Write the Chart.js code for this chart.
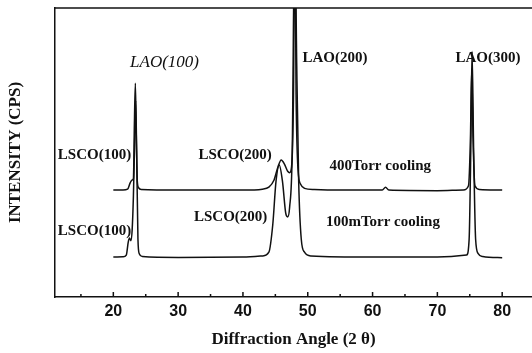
<!DOCTYPE html>
<html>
<head>
<meta charset="utf-8">
<script src="https://cdn.jsdelivr.net/npm/chart.js@4"></script>
<style>
  html, body { margin: 0; padding: 0; background: #fff; overflow: hidden; }
</style>
</head>
<body>
<canvas id="xrd" width="532" height="353"></canvas>
<script>
// 400Torr cooling (upper trace)
const angles400 = [20.0, 21.5, 22.2, 22.6, 22.9, 23.1, 23.25, 23.4, 23.55, 23.7, 23.9, 24.3, 30, 40, 43, 44,
    44.8, 45.4, 45.9, 46.4, 46.9, 47.2, 47.5, 47.8, 48.0, 48.2, 48.5, 48.9, 49.5, 51, 55, 61.5, 62.0, 62.5,
    70, 74, 74.8, 75.1, 75.3, 75.5, 75.8, 76.5, 80];
const intens400 = [37.0, 37.0, 37.3, 39.5, 40.5, 41, 60, 74, 55, 40, 37.8, 37.2, 37, 37, 37.3, 38,
    40.5, 45, 47.4, 46, 43.5, 43, 45, 70, 130, 70, 44, 39, 37.6, 37.2, 37, 37, 38, 37,
    36.8, 37, 38.5, 55, 79, 55, 38.5, 37.2, 37];

// 100mTorr cooling (lower trace)
const angles100 = [20, 21.5, 22.0, 22.3, 22.5, 22.7, 22.9, 23.1, 23.3, 23.45, 23.6, 23.8, 24.0, 24.5, 30, 40,
    43, 44, 44.6, 45.1, 45.6, 46.1, 46.6, 46.9, 47.2, 47.6, 48.0, 48.3, 48.6, 49.0, 49.5, 50.5, 60, 70,
    74.5, 74.9, 75.15, 75.35, 75.6, 75.9, 76.3, 77, 80];
const intens100 = [13.8, 13.9, 14.5, 19, 20.4, 19.5, 23, 35, 55, 68, 50, 20, 15, 14, 13.7, 13.8,
    14.2, 15.5, 25, 40, 45.7, 40, 29, 27.7, 31, 50, 130, 80, 40, 20, 15.5, 14.2, 13.8, 13.8,
    14.5, 20, 50, 85, 50, 20, 15, 14, 13.6];

const xTicks = [20, 30, 40, 50, 60, 70, 80];
const xMinorTicks = [15, 25, 35, 45, 55, 65, 75];

const peakNames = ['LAO(100)', 'LSCO(100)', 'LSCO(100)', 'LSCO(200)', 'LSCO(200)', 'LAO(200)', 'LAO(300)',
    '400Torr cooling', '100mTorr cooling'];
const peakNameAngles = [27.9, 17.1, 17.1, 38.8, 38.1, 54.2, 77.8, 61.2, 61.6];
const peakNameIntens = [81.0, 49.1, 22.8, 49.1, 27.7, 82.7, 82.7, 45.3, 26.0];

const toPoints = (xs, ys) => xs.map((x, i) => ({ x: x, y: ys[i] }));

const decorations = {
    id: 'decorations',
    afterDatasetsDraw(chart) {
        const { ctx, chartArea, scales } = chart;
        ctx.save();
        ctx.strokeStyle = '#111';
        ctx.lineWidth = 1.5;

        // top frame line
        ctx.beginPath();
        ctx.moveTo(chartArea.left, chartArea.top);
        ctx.lineTo(chartArea.right, chartArea.top);
        ctx.stroke();

        // inward tick marks
        ctx.beginPath();
        xTicks.forEach(v => {
            const px = scales.x.getPixelForValue(v);
            ctx.moveTo(px, chartArea.bottom);
            ctx.lineTo(px, chartArea.bottom - 5);
        });
        xMinorTicks.forEach(v => {
            const px = scales.x.getPixelForValue(v);
            ctx.moveTo(px, chartArea.bottom);
            ctx.lineTo(px, chartArea.bottom - 3);
        });
        ctx.stroke();

        // peak labels
        ctx.fillStyle = '#111';
        ctx.textAlign = 'center';
        ctx.textBaseline = 'middle';
        peakNames.forEach((name, i) => {
            ctx.font = i === 0 ? 'italic 17px "Liberation Serif"' : 'bold 15px "Liberation Serif"';
            ctx.fillText(name,
                scales.x.getPixelForValue(peakNameAngles[i]),
                scales.y.getPixelForValue(peakNameIntens[i]));
        });
        ctx.restore();
    }
};

new Chart(document.getElementById('xrd'), {
    type: 'line',
    data: {
        datasets: [{
            label: '400Torr cooling',
            data: toPoints(angles400, intens400),
            borderColor: '#111',
            borderWidth: 1.5,
            pointRadius: 0,
            cubicInterpolationMode: 'monotone'
        }, {
            label: '100mTorr cooling',
            data: toPoints(angles100, intens100),
            borderColor: '#111',
            borderWidth: 1.5,
            pointRadius: 0,
            cubicInterpolationMode: 'monotone'
        }]
    },
    options: {
        responsive: false,
        animation: false,
        devicePixelRatio: 1,
        layout: {
            padding: { top: 8, left: 0, right: 0, bottom: 0 }
        },
        plugins: {
            legend: { display: false },
            tooltip: { enabled: false }
        },
        scales: {
            x: {
                type: 'linear',
                min: 11,
                max: 84.6,
                grid: { display: false, drawTicks: false },
                border: { display: true, color: '#111', width: 1.5 },
                afterBuildTicks: scale => {
                    scale.ticks = xTicks.map(v => ({ value: v }));
                },
                afterFit: scale => {
                    scale.height = 56;
                },
                ticks: {
                    padding: 5,
                    color: '#111',
                    font: { family: '"Liberation Sans"', size: 16, weight: 'bold' }
                },
                title: {
                    display: true,
                    text: 'Diffraction Angle (2 θ)',
                    color: '#111',
                    padding: { top: 0, bottom: 3 },
                    font: { family: '"Liberation Serif"', size: 17, weight: 'bold' }
                }
            },
            y: {
                min: 0,
                max: 100,
                grid: { display: false, drawTicks: false },
                border: { display: true, color: '#111', width: 1.5 },
                ticks: { display: false },
                afterFit: scale => {
                    scale.width = 55;
                },
                title: {
                    display: true,
                    text: 'INTENSITY (CPS)',
                    color: '#111',
                    padding: { top: 5, bottom: 0 },
                    font: { family: '"Liberation Serif"', size: 17, weight: 'bold' }
                }
            }
        }
    },
    plugins: [decorations]
});
</script>
</body>
</html>
